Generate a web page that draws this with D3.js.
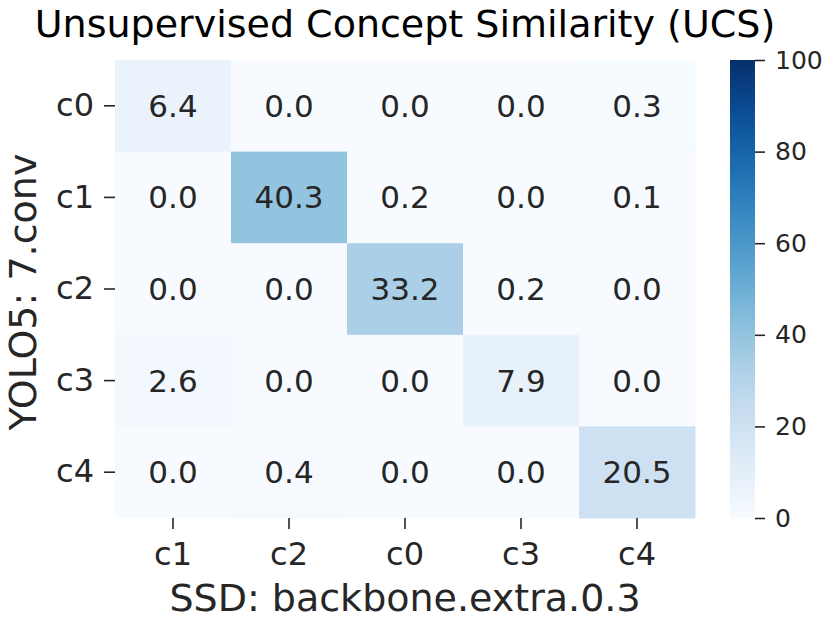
<!DOCTYPE html>
<html>
<head>
<meta charset="utf-8">
<script src="https://cdn.jsdelivr.net/npm/d3@7"></script>
<style>
  body { margin: 0; background: #fff; }
  text { font-family: "DejaVu Sans", sans-serif; }
</style>
</head>
<body>
<div id="chart"></div>
<script>
const rowLabels = ["c0", "c1", "c2", "c3", "c4"];
const colLabels = ["c1", "c2", "c0", "c3", "c4"];
const values = [
  [6.4, 0.0, 0.0, 0.0, 0.3],
  [0.0, 40.3, 0.2, 0.0, 0.1],
  [0.0, 0.0, 33.2, 0.2, 0.0],
  [2.6, 0.0, 0.0, 7.9, 0.0],
  [0.0, 0.4, 0.0, 0.0, 20.5]
];
const colorTicks = [0, 20, 40, 60, 80, 100];

const width = 830, height = 621;
const margin = { top: 60, left: 115, right: 135, bottom: 103 };

const svg = d3.select("#chart").append("svg")
  .attr("width", width)
  .attr("height", height);

const x = d3.scaleBand()
  .domain(colLabels.map((d, i) => i))
  .range([margin.left, width - margin.right]);

const y = d3.scaleBand()
  .domain(rowLabels)
  .range([margin.top, height - margin.bottom]);

const color = d3.scaleSequential(d3.interpolateBlues).domain([0, 100]);

const cells = [];
values.forEach((row, r) => row.forEach((v, c) => cells.push({ r, c, v })));

svg.append("g")
  .selectAll("rect")
  .data(cells)
  .join("rect")
  .attr("x", d => x(d.c))
  .attr("y", d => y(rowLabels[d.r]))
  .attr("width", x.bandwidth() + 0.5)
  .attr("height", y.bandwidth() + 0.5)
  .attr("fill", d => color(d.v));

svg.append("g")
  .selectAll("text")
  .data(cells)
  .join("text")
  .attr("x", d => x(d.c) + x.bandwidth() / 2)
  .attr("y", d => y(rowLabels[d.r]) + y.bandwidth() / 2)
  .attr("text-anchor", "middle")
  .attr("dominant-baseline", "central")
  .attr("font-size", 31)
  .attr("fill", d => d.v > 60 ? "#fff" : "#262626")
  .text(d => d.v.toFixed(1));

// axes
const xAxis = g => g
  .attr("transform", `translate(0,${height - margin.bottom})`)
  .call(d3.axisBottom(x).tickFormat(i => colLabels[i]).tickSize(11).tickPadding(13))
  .call(g => g.select(".domain").remove())
  .call(g => g.selectAll("text").attr("font-size", 32).attr("fill", "#262626"))
  .call(g => g.selectAll("line").attr("stroke", "#262626").attr("stroke-width", 1.6));

const yAxis = g => g
  .attr("transform", `translate(${margin.left},0)`)
  .call(d3.axisLeft(y).tickSize(11).tickPadding(10))
  .call(g => g.select(".domain").remove())
  .call(g => g.selectAll("text").attr("font-size", 32).attr("fill", "#262626"))
  .call(g => g.selectAll("line").attr("stroke", "#262626").attr("stroke-width", 1.6));

svg.append("g").call(xAxis);
svg.append("g").call(yAxis);

// titles
svg.append("text")
  .attr("x", (margin.left + width - margin.right) / 2)
  .attr("y", 37)
  .attr("text-anchor", "middle")
  .attr("font-size", 38)
  .attr("fill", "#000")
  .text("Unsupervised Concept Similarity (UCS)");

svg.append("text")
  .attr("x", (margin.left + width - margin.right) / 2)
  .attr("y", 611)
  .attr("text-anchor", "middle")
  .attr("font-size", 38)
  .attr("fill", "#262626")
  .text("SSD: backbone.extra.0.3");

svg.append("text")
  .attr("transform", `translate(36,${(margin.top + height - margin.bottom) / 2 + 3}) rotate(-90)`)
  .attr("text-anchor", "middle")
  .attr("font-size", 38)
  .attr("fill", "#262626")
  .text("YOLO5: 7.conv");

// colorbar
const cbX = 730, cbW = 25;
const cbScale = d3.scaleLinear().domain([0, 100]).range([height - margin.bottom, margin.top]);

const defs = svg.append("defs");
const grad = defs.append("linearGradient")
  .attr("id", "cbgrad")
  .attr("x1", "0%").attr("y1", "100%")
  .attr("x2", "0%").attr("y2", "0%");
d3.range(0, 1.0001, 0.05).forEach(t => {
  grad.append("stop")
    .attr("offset", `${t * 100}%`)
    .attr("stop-color", color(t * 100));
});

svg.append("rect")
  .attr("x", cbX)
  .attr("y", margin.top)
  .attr("width", cbW)
  .attr("height", height - margin.bottom - margin.top)
  .attr("fill", "url(#cbgrad)");

svg.append("g")
  .attr("transform", `translate(${cbX + cbW},0)`)
  .call(d3.axisRight(cbScale).tickValues(colorTicks).tickSize(10).tickPadding(10))
  .call(g => g.select(".domain").remove())
  .call(g => g.selectAll("text").attr("font-size", 25).attr("fill", "#262626"))
  .call(g => g.selectAll("line").attr("stroke", "#262626").attr("stroke-width", 1.6));
</script>
</body>
</html>
